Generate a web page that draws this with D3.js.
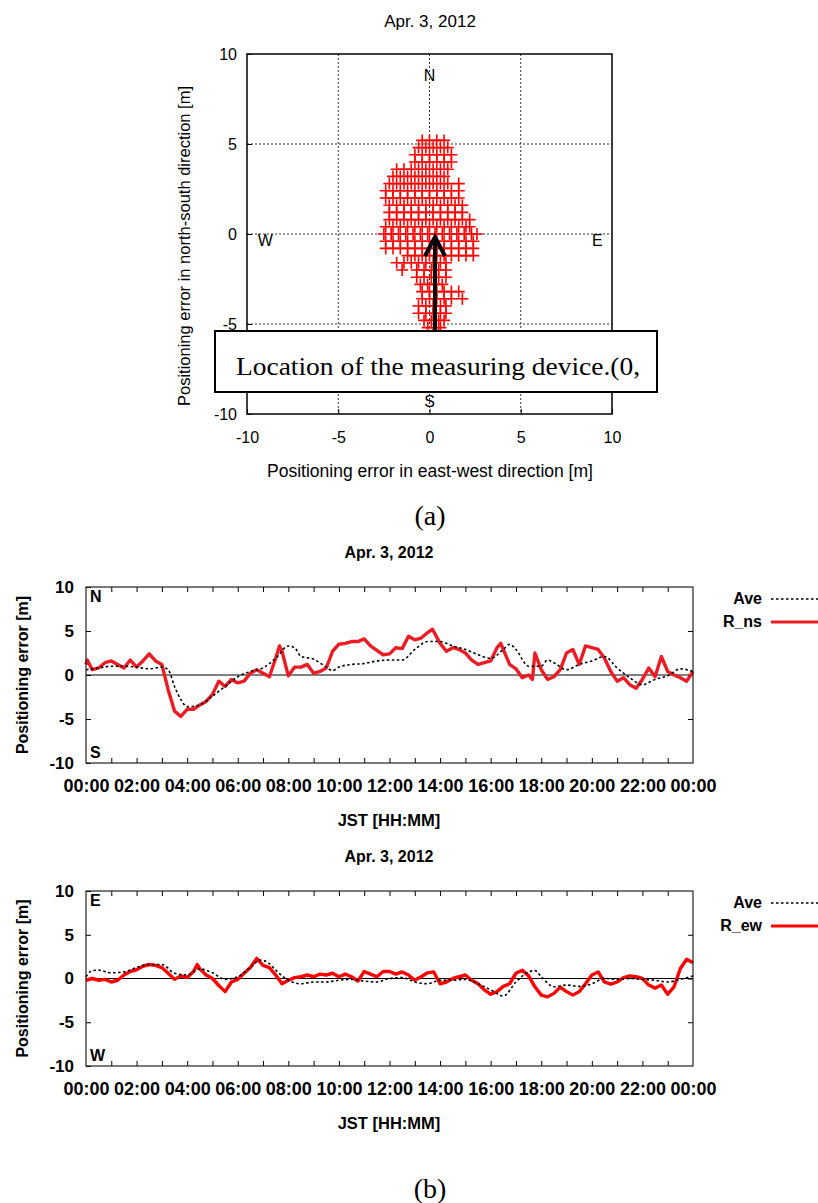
<!DOCTYPE html>
<html>
<head>
<meta charset="utf-8">
<script src="https://cdn.jsdelivr.net/npm/d3@7"></script>
<style>
  body { margin: 0; background: #fff; }
  text { font-family: "Liberation Sans", Arial, sans-serif; }
</style>
</head>
<body>
<div id="chart"></div>
<script>
// ---- data ----
const dateLabel = "Apr. 3, 2012"
const scatterTicks = [-10, -5, 0, 5, 10]
const timeTicks = [0, 2, 4, 6, 8, 10, 12, 14, 16, 18, 20, 22, 24]
const errTicks = [-10, -5, 0, 5, 10]

// (a) position cloud, rows of [north-south, [east-west ...]]
const cloudRows = [
  [5.2, [-0.4, 0.0, 0.4, 0.8]],
  [4.8, [-0.6, -0.2, 0.2, 0.6, 1.0]],
  [4.4, [-0.8, -0.4, 0.0, 0.4, 0.8, 1.2]],
  [4.0, [-0.8, -0.4, 0.0, 0.4, 0.8, 1.2]],
  [3.6, [-1.8, -1.4, -1.0, -0.6, -0.2, 0.2, 0.6, 1.0]],
  [3.2, [-2.0, -1.6, -1.2, -0.8, -0.4, 0.0, 0.4, 0.8]],
  [2.8, [-2.2, -1.8, -1.4, -1.0, -0.6, -0.2, 0.2, 0.6, 1.0, 1.6]],
  [2.4, [-2.4, -2.0, -1.6, -1.2, -0.8, -0.4, 0.0, 0.4, 0.8, 1.2, 1.6]],
  [2.0, [-2.4, -2.0, -1.6, -1.2, -0.8, -0.4, 0.0, 0.4, 0.8, 1.2, 1.6]],
  [1.6, [-2.2, -1.8, -1.4, -1.0, -0.6, -0.2, 0.2, 0.6, 1.0, 1.4, 1.8]],
  [1.2, [-2.2, -1.8, -1.4, -1.0, -0.6, -0.2, 0.2, 0.6, 1.0, 1.4, 1.8]],
  [0.8, [-2.2, -1.8, -1.4, -1.0, -0.6, -0.2, 0.2, 0.6, 1.0, 1.4, 1.8, 2.2]],
  [0.4, [-2.4, -2.0, -1.6, -1.2, -0.8, -0.4, 0.0, 0.4, 0.8, 1.2, 1.6, 2.0, 2.2]],
  [0.0, [-2.5, -2.1, -1.7, -1.3, -0.9, -0.5, -0.1, 0.3, 0.7, 1.1, 1.5, 1.9, 2.3, 2.6]],
  [-0.4, [-2.4, -2.0, -1.6, -1.2, -0.8, -0.4, 0.0, 0.4, 0.8, 1.2, 1.6, 2.0, 2.4]],
  [-0.8, [-2.4, -2.0, -1.6, -1.2, -0.8, -0.4, 0.0, 0.4, 0.8, 1.2, 1.6, 2.0, 2.4]],
  [-1.2, [-1.2, -0.8, -0.4, 0.0, 0.4, 0.8, 1.2, 1.6, 2.0, 2.4]],
  [-1.6, [-1.8, -1.4, -1.0, -0.6, -0.2, 0.2, 0.6, 0.9]],
  [-2.0, [-1.5, -0.7, -0.3, 0.1, 0.5, 0.9]],
  [-2.4, [-0.7, -0.3, 0.1, 0.5, 0.9]],
  [-2.8, [-0.5, -0.1, 0.3, 0.7]],
  [-3.2, [-0.4, 0.0, 0.4, 0.8, 1.2, 1.6]],
  [-3.6, [-0.4, 0.0, 0.4, 0.8, 1.2, 1.8]],
  [-4.0, [-0.6, -0.2, 0.2, 0.6, 0.9]],
  [-4.4, [-0.6, -0.2, 0.2, 0.6, 0.9]],
  [-4.8, [-0.3, 0.1, 0.5, 0.8]],
  [-5.2, [-0.1, 0.3, 0.6]],
  [-5.6, [0.2, 0.5]]
]

// (b) north-south error, [hour, metres]
const rNs = [
  [0, 1.2], [0.05, 1.7], [0.25, 0.6], [0.5, 0.8], [0.75, 1.4], [1, 1.6], [1.25, 1.2], [1.5, 0.8],
  [1.75, 1.7], [2, 0.9], [2.25, 1.6], [2.5, 2.4], [2.75, 1.6], [3, 1.2], [3.25, -1.7], [3.5, -4.1],
  [3.75, -4.7], [4, -3.9], [4.25, -3.9], [4.5, -3.4], [4.75, -3.0], [5, -2.2], [5.25, -0.7], [5.5, -1.3],
  [5.75, -0.5], [6, -0.9], [6.25, -0.7], [6.5, 0.2], [6.75, 0.6], [7, 0.2], [7.25, -0.2], [7.5, 1.9],
  [7.65, 3.3], [7.75, 2.7], [8, -0.1], [8.25, 0.9], [8.5, 0.9], [8.75, 1.2], [9, 0.2], [9.25, 0.4],
  [9.5, 0.8], [9.75, 2.7], [10, 3.5], [10.25, 3.6], [10.5, 3.8], [10.75, 3.8], [11, 4.1], [11.25, 3.3],
  [11.5, 2.8], [11.75, 2.3], [12, 2.4], [12.25, 3.1], [12.5, 3.0], [12.75, 4.4], [13, 4.0], [13.25, 4.2],
  [13.5, 4.8], [13.7, 5.2], [14, 3.6], [14.25, 2.7], [14.5, 3.1], [14.75, 2.9], [15, 2.5], [15.25, 1.7],
  [15.5, 1.2], [15.75, 1.4], [16, 1.6], [16.25, 3.1], [16.4, 3.6], [16.5, 2.9], [16.75, 1.2], [17, 0.7],
  [17.25, -0.3], [17.5, 0.0], [17.65, -0.5], [17.75, 2.5], [18, 0.6], [18.25, -0.5], [18.5, -0.2],
  [18.75, 0.6], [19, 2.5], [19.25, 2.9], [19.5, 1.2], [19.75, 3.3], [20, 3.1], [20.25, 2.9], [20.5, 1.9],
  [20.75, 0.4], [21, -0.7], [21.25, -0.3], [21.5, -1.1], [21.75, -1.5], [22, -0.5], [22.25, 0.8],
  [22.5, -0.2], [22.75, 2.1], [23, 0.4], [23.25, 0.0], [23.5, -0.3], [23.75, -0.7], [24, 0.4]
]
const aveNs = [
  [0, 0.6], [0.5, 0.8], [1, 1.0], [1.5, 1.0], [2, 0.9], [2.5, 0.7], [3, 0.9], [3.25, 0.6], [3.5, -1.3],
  [3.75, -2.8], [4, -3.6], [4.5, -3.4], [5, -2.4], [5.5, -1.3], [6, -0.2], [6.5, 0.4], [7, 0.8],
  [7.5, 1.9], [8, 3.3], [8.25, 3.1], [8.5, 2.1], [9, 1.8], [9.5, 0.9], [9.75, 0.5], [10, 0.9],
  [10.5, 1.2], [11, 1.3], [11.5, 1.6], [12, 1.7], [12.5, 1.7], [13, 2.9], [13.5, 3.8], [14, 3.8],
  [14.5, 3.3], [15, 2.9], [15.5, 2.3], [16, 1.9], [16.5, 2.9], [16.75, 3.5], [17, 2.9], [17.5, 1.0],
  [18, 1.0], [18.25, 1.7], [18.5, 1.4], [19, 0.6], [19.5, 1.2], [20, 1.6], [20.5, 2.1], [21, 0.8],
  [21.5, -0.3], [22, -1.1], [22.5, -0.5], [23, -0.1], [23.5, 0.7], [24, 0.4]
]

// (b) east-west error, [hour, metres]
const rEw = [
  [0, -0.2], [0.25, 0.0], [0.5, -0.2], [0.75, -0.1], [1, -0.4], [1.25, -0.2], [1.5, 0.4], [1.75, 0.8],
  [2, 1.0], [2.25, 1.4], [2.5, 1.6], [2.75, 1.5], [3, 1.25], [3.25, 0.6], [3.5, -0.1], [3.75, 0.3],
  [4, 0.1], [4.25, 0.8], [4.4, 1.6], [4.5, 1.1], [4.75, 0.4], [5, 0.0], [5.25, -0.8], [5.5, -1.5],
  [5.75, -0.4], [6, -0.1], [6.25, 0.6], [6.5, 1.25], [6.75, 2.3], [7, 1.5], [7.25, 1.25], [7.5, 0.4],
  [7.75, -0.6], [8, -0.2], [8.25, 0.1], [8.5, 0.2], [8.75, 0.4], [9, 0.2], [9.25, 0.5], [9.5, 0.4],
  [9.75, 0.6], [10, 0.2], [10.25, 0.5], [10.5, 0.2], [10.75, -0.3], [11, 0.8], [11.25, 0.5], [11.5, 0.2],
  [11.75, 0.8], [12, 0.8], [12.25, 0.5], [12.5, 0.75], [12.75, 0.4], [13, -0.2], [13.25, 0.2],
  [13.5, 0.65], [13.75, 0.75], [14, -0.6], [14.25, -0.4], [14.5, 0.0], [14.75, 0.2], [15, 0.4],
  [15.25, -0.2], [15.5, -0.6], [15.75, -1.3], [16, -1.8], [16.25, -1.5], [16.5, -0.9], [16.75, -0.6],
  [17, 0.6], [17.25, 0.95], [17.5, 0.3], [17.75, -0.95], [18, -1.9], [18.25, -2.1], [18.5, -1.7],
  [18.75, -1.0], [19, -1.5], [19.25, -1.9], [19.5, -1.5], [19.75, -0.6], [20, 0.4], [20.25, 0.75],
  [20.5, -0.4], [20.75, -0.65], [21, -0.4], [21.25, 0.1], [21.5, 0.3], [21.75, 0.2], [22, 0.0],
  [22.25, -0.75], [22.5, -1.1], [22.75, -0.75], [23, -1.8], [23.25, -0.95], [23.5, 1.15], [23.75, 2.2],
  [24, 1.8]
]
const aveEw = [
  [0, 0.2], [0.25, 0.9], [0.5, 0.95], [1, 0.65], [1.5, 0.75], [2, 1.25], [2.5, 1.6], [3, 1.6],
  [3.5, 0.6], [4, 0.4], [4.5, 1.1], [5, 0.65], [5.5, -0.1], [6, 0.2], [6.5, 1.3], [6.9, 2.1],
  [7.25, 1.7], [7.5, 0.95], [8, -0.2], [8.5, -0.6], [9, -0.4], [9.5, -0.4], [10, -0.2], [10.5, -0.1],
  [11, -0.3], [11.5, -0.4], [12, 0.0], [12.5, 0.1], [13, -0.4], [13.5, -0.6], [14, -0.2], [14.5, -0.2],
  [15, -0.1], [15.5, -0.6], [16, -1.3], [16.5, -2.0], [17, -0.4], [17.5, 0.75], [17.75, 0.9],
  [18, 0.2], [18.5, -0.95], [19, -0.75], [19.5, -0.9], [20, -0.6], [20.5, 0.0], [21, -0.1], [21.5, 0.0],
  [22, -0.1], [22.5, -0.2], [23, -0.4], [23.5, -0.1], [24, 0.3]
]

const svg = d3.select('#chart').append('svg')
  .attr('width', 818)
  .attr('height', 1203)

const plainNum = d => String(d) // hyphen minus, like the original

// ================= (a) scatter =================
const xS = d3.scaleLinear().domain([-10, 10]).range([247, 612])
const yS = d3.scaleLinear().domain([-10, 10]).range([414, 54])

const gA = svg.append('g')

gA.append('text')
  .attr('x', 430).attr('y', 27)
  .attr('text-anchor', 'middle')
  .style('font-size', '17px')
  .text(dateLabel)

// dotted grid
gA.append('g').selectAll('line.gx')
  .data(scatterTicks.slice(1, -1))
  .join('line')
  .attr('x1', d => xS(d)).attr('x2', d => xS(d))
  .attr('y1', yS(10)).attr('y2', yS(-10))
  .attr('stroke', '#333').attr('stroke-dasharray', '2,2')
gA.append('g').selectAll('line.gy')
  .data(scatterTicks.slice(1, -1))
  .join('line')
  .attr('y1', d => yS(d)).attr('y2', d => yS(d))
  .attr('x1', xS(-10)).attr('x2', xS(10))
  .attr('stroke', '#333').attr('stroke-dasharray', '2,2')

// axes with inward ticks
gA.append('g')
  .attr('transform', `translate(0,${yS(-10)})`)
  .call(d3.axisBottom(xS).tickValues(scatterTicks).tickFormat(plainNum).tickSizeInner(-5).tickSizeOuter(0).tickPadding(18))
  .call(g => g.select('.domain').remove())
  .call(g => g.selectAll('text').style('font-size', '16px').attr('fill', '#000').style('font-family', '"Liberation Sans", Arial'))
gA.append('g')
  .attr('transform', `translate(${xS(-10)},0)`)
  .call(d3.axisLeft(yS).tickValues(scatterTicks).tickFormat(plainNum).tickSizeInner(-5).tickSizeOuter(0).tickPadding(10))
  .call(g => g.select('.domain').remove())
  .call(g => g.selectAll('text').style('font-size', '16px').attr('fill', '#000').style('font-family', '"Liberation Sans", Arial'))

// compass letters
const compass = [['N', 0, 8.8], ['W', -9, -0.35], ['E', 9.2, -0.35], ['S', 0, -9.3]]
gA.selectAll('text.cmp')
  .data(compass)
  .join('text')
  .attr('x', d => xS(d[1])).attr('y', d => yS(d[2]))
  .attr('text-anchor', 'middle')
  .attr('dy', '0.35em')
  .style('font-size', '16px')
  .text(d => d[0])

// cloud of "+" markers
const cloud = cloudRows.flatMap(([ns, xs]) => xs.map(ew => [ew, ns]))
gA.append('g').selectAll('path')
  .data(cloud)
  .join('path')
  .attr('transform', d => `translate(${xS(d[0])},${yS(d[1])})`)
  .attr('d', 'M-6,0H6M0,-6V6')
  .attr('stroke', '#ff0000')
  .attr('stroke-width', 1.6)
  .attr('fill', 'none')

// frame
gA.append('rect')
  .attr('x', xS(-10)).attr('y', yS(10))
  .attr('width', xS(10) - xS(-10)).attr('height', yS(-10) - yS(10))
  .attr('fill', 'none').attr('stroke', '#000').attr('stroke-width', 1.5)

// axis titles
gA.append('text')
  .attr('x', 430).attr('y', 477)
  .attr('text-anchor', 'middle')
  .style('font-size', '17.5px')
  .text('Positioning error in east-west direction [m]')
gA.append('text')
  .attr('transform', `translate(190,${yS(0) + 12}) rotate(-90)`)
  .attr('text-anchor', 'middle')
  .style('font-size', '16.5px')
  .text('Positioning error in north-south direction [m]')

// arrow to the measuring device
const ax = xS(0.3), tipY = yS(0) + 3
gA.append('path')
  .attr('d', `M${ax},335V${tipY}M${ax - 10},${tipY + 19}L${ax},${tipY}L${ax + 10},${tipY + 19}`)
  .attr('stroke', '#000').attr('stroke-width', 4).attr('fill', 'none')

// annotation box
gA.append('rect')
  .attr('x', 215).attr('y', 331).attr('width', 442).attr('height', 61)
  .attr('fill', '#fff').attr('stroke', '#000').attr('stroke-width', 2)
gA.append('text')
  .attr('x', 236).attr('y', 375)
  .attr('textLength', 404).attr('lengthAdjust', 'spacingAndGlyphs')
  .style('font-family', '"Liberation Serif", "Times New Roman", serif')
  .style('font-size', '26px')
  .text('Location of the measuring device.(0,')

svg.append('text')
  .attr('x', 430).attr('y', 525)
  .attr('text-anchor', 'middle')
  .style('font-family', '"Liberation Serif", serif')
  .style('font-size', '28px')
  .text('(a)')

// ================= (b) time series =================
function drawSeries(top, bottom, red, ave, redName, redColor, upLabel, downLabel) {
  const xT = d3.scaleLinear().domain([0, 24]).range([86, 693])
  const yT = d3.scaleLinear().domain([-10, 10]).range([bottom, top])
  const g = svg.append('g')
  const bold = g => g.style('font-weight', 'bold').attr('fill', '#000').style('font-family', '"Liberation Sans", Arial')

  g.append('text')
    .attr('x', 389).attr('y', top - 29)
    .attr('text-anchor', 'middle')
    .style('font-size', '16px').style('font-weight', 'bold')
    .text(dateLabel)

  // zero line
  g.append('line')
    .attr('x1', xT(0)).attr('x2', xT(24))
    .attr('y1', yT(0)).attr('y2', yT(0))
    .attr('stroke', '#000').attr('stroke-width', 1)

  // hourly ticks on bottom and top
  const hours = d3.range(1, 24)
  g.append('g')
    .attr('transform', `translate(0,${bottom})`)
    .call(d3.axisBottom(xT).tickValues(hours).tickSizeInner(-5).tickSizeOuter(0).tickFormat(''))
    .call(a => a.select('.domain').remove())
  g.append('g')
    .attr('transform', `translate(0,${top})`)
    .call(d3.axisTop(xT).tickValues(hours).tickSizeInner(-5).tickSizeOuter(0).tickFormat(''))
    .call(a => a.select('.domain').remove())
  g.append('g')
    .attr('transform', `translate(0,${bottom})`)
    .call(d3.axisBottom(xT).tickValues(timeTicks).tickSize(0).tickPadding(16)
      .tickFormat(h => String(h % 24).padStart(2, '0') + ':00'))
    .call(a => a.select('.domain').remove())
    .call(a => a.selectAll('text').style('font-size', '18px').call(bold))

  g.append('g')
    .attr('transform', `translate(${xT(0)},0)`)
    .call(d3.axisLeft(yT).tickValues(errTicks).tickFormat(plainNum).tickSizeInner(-5).tickSizeOuter(0).tickPadding(12))
    .call(a => a.select('.domain').remove())
    .call(a => a.selectAll('text').style('font-size', '17px').call(bold))
  g.append('g')
    .attr('transform', `translate(${xT(24)},0)`)
    .call(d3.axisRight(yT).tickValues(errTicks.slice(1, -1)).tickSizeInner(-5).tickSizeOuter(0).tickFormat(''))
    .call(a => a.select('.domain').remove())

  const line = d3.line().x(d => xT(d[0])).y(d => yT(d[1]))
  g.append('path').datum(red)
    .attr('d', line)
    .attr('fill', 'none').attr('stroke', redColor).attr('stroke-width', 3.4).attr('stroke-linejoin', 'round')
  g.append('path').datum(ave)
    .attr('d', line.curve(d3.curveMonotoneX))
    .attr('fill', 'none').attr('stroke', '#000').attr('stroke-width', 1.6).attr('stroke-dasharray', '2.5,2.5')

  g.append('rect')
    .attr('x', xT(0)).attr('y', top)
    .attr('width', xT(24) - xT(0)).attr('height', bottom - top)
    .attr('fill', 'none').attr('stroke', '#222').attr('stroke-width', 1.2)

  g.append('text').attr('x', 90).attr('y', top + 15)
    .style('font-size', '16px').style('font-weight', 'bold').text(upLabel)
  g.append('text').attr('x', 90).attr('y', bottom - 5)
    .style('font-size', '16px').style('font-weight', 'bold').text(downLabel)

  g.append('text')
    .attr('transform', `translate(28,${yT(0)}) rotate(-90)`)
    .attr('text-anchor', 'middle')
    .style('font-size', '16px').style('font-weight', 'bold')
    .text('Positioning error [m]')

  g.append('text')
    .attr('x', 389).attr('y', bottom + 63)
    .attr('text-anchor', 'middle')
    .style('font-size', '16.5px').style('font-weight', 'bold')
    .text('JST [HH:MM]')

  // legend
  const legend = [['Ave', '#000', 1.6, '2.5,2.5'], [redName, redColor, 3, null]]
  legend.forEach((l, i) => {
    const ly = top + 12 + i * 23
    g.append('text').attr('x', 762).attr('y', ly + 5)
      .attr('text-anchor', 'end')
      .style('font-size', '16px').style('font-weight', 'bold')
      .text(l[0])
    g.append('line').attr('x1', 771).attr('x2', 818).attr('y1', ly).attr('y2', ly)
      .attr('stroke', l[1]).attr('stroke-width', l[2]).attr('stroke-dasharray', l[3])
  })
}

drawSeries(587, 763, rNs, aveNs, 'R_ns', '#ec1c24', 'N', 'S')
drawSeries(891, 1066, rEw, aveEw, 'R_ew', '#ff0000', 'E', 'W')

svg.append('text')
  .attr('x', 430).attr('y', 1198)
  .attr('text-anchor', 'middle')
  .style('font-family', '"Liberation Serif", serif')
  .style('font-size', '28px')
  .text('(b)')
</script>
</body>
</html>
